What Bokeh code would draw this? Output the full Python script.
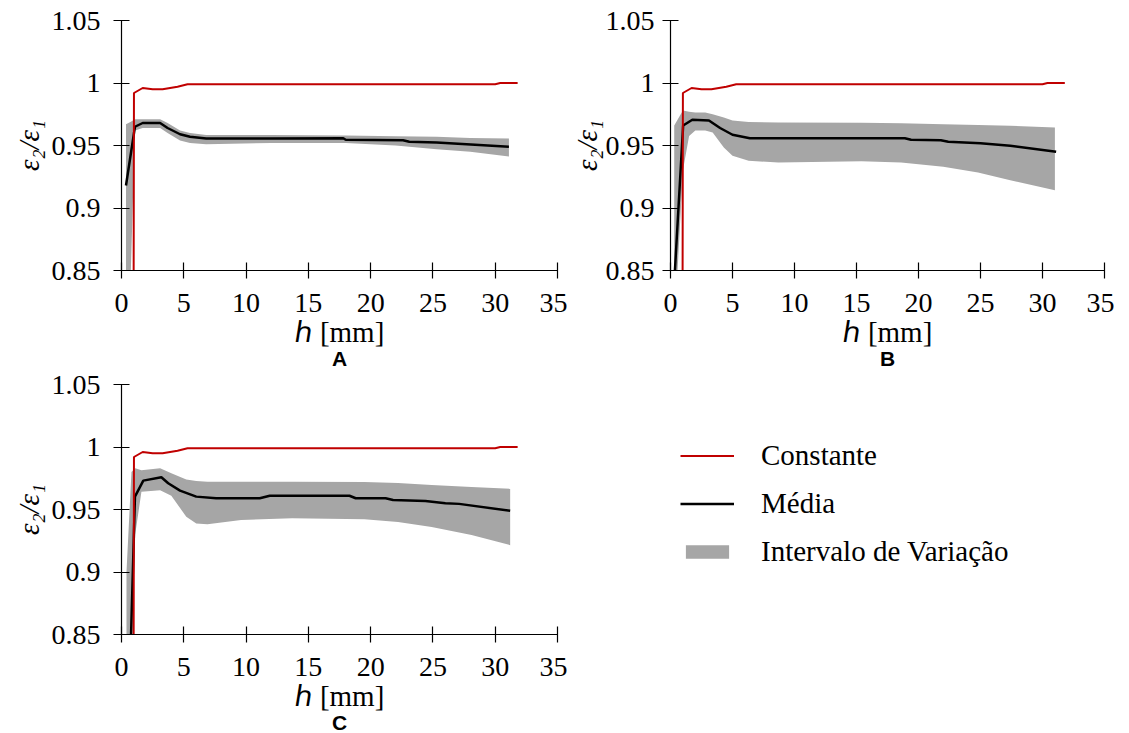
from bokeh.plotting import figure
from bokeh.models import FixedTicker, NumeralTickFormatter, Legend, LegendItem, Range1d, Title
from bokeh.layouts import column, row
from bokeh.embed import file_html
from bokeh.resources import INLINE

# ---------------- data ----------------
x_ticks = [0, 5, 10, 15, 20, 25, 30, 35]
y_ticks = [0.85, 0.9, 0.95, 1.0, 1.05]

# "Constante" (same in all panels)
h_const = [0.95, 1.0, 1.7, 2.5, 3.3, 4.5, 5.3, 30.0, 30.4, 31.8]
v_const = [0.70, 0.992, 0.996, 0.995, 0.995, 0.997, 0.999, 0.999, 1.0, 1.0]

# Panel A
hA_mean = [0.36, 1.08, 1.7, 3.1, 3.7, 4.7, 5.5, 6.8, 12.0, 17.8, 18.0, 22.6, 23.1, 25.3, 27.7, 31.1]
A_mean = [0.918, 0.965, 0.968, 0.968, 0.964, 0.959, 0.957, 0.9556, 0.9557, 0.9558, 0.9546, 0.9542,
          0.953, 0.9524, 0.951, 0.949]
hA_band = [0.36, 0.75, 1.08, 1.7, 3.1, 3.7, 4.7, 5.5, 6.8, 12.0, 18.0, 22.0, 25.3, 28.0, 31.1]
A_upper = [0.967, 0.969, 0.971, 0.971, 0.971, 0.968, 0.962, 0.960, 0.9585, 0.9585, 0.958, 0.9575,
           0.957, 0.956, 0.9556]
A_lower = [0.80, 0.85, 0.962, 0.964, 0.964, 0.960, 0.954, 0.952, 0.951, 0.952, 0.952, 0.950,
           0.947, 0.945, 0.9412]

# Panel B
hB_mean = [0.3, 1.02, 1.76, 3.1, 4.0, 5.0, 6.4, 12.0, 18.9, 19.4, 21.8, 22.4, 25.0, 27.4, 31.1]
B_mean = [0.84, 0.966, 0.9706, 0.970, 0.964, 0.9586, 0.9558, 0.9558, 0.9558, 0.9546, 0.9542,
          0.953, 0.9518, 0.9498, 0.945]
hB_band = [0.3, 1.0, 1.5, 2.0, 2.8, 3.4, 4.3, 5.0, 6.3, 8.7, 15.4, 18.6, 22.0, 24.8, 27.4, 31.0]
B_upper = [0.966, 0.978, 0.977, 0.9764, 0.9764, 0.975, 0.9724, 0.970, 0.9688, 0.9684, 0.9682,
           0.9678, 0.967, 0.9664, 0.9658, 0.9644]
B_lower = [0.80, 0.93, 0.9576, 0.962, 0.962, 0.9604, 0.9484, 0.9418, 0.9378, 0.9364, 0.9375,
           0.9364, 0.933, 0.9284, 0.9222, 0.9142]

# Panel C
hC_mean = [0.74, 1.08, 1.75, 3.2, 3.75, 4.7, 6.0, 7.6, 11.1, 11.9, 18.3, 18.8, 21.2, 21.8, 24.4,
           26.0, 27.1, 31.2]
C_mean = [0.84, 0.9603, 0.9731, 0.9758, 0.971, 0.9651, 0.9603, 0.959, 0.959, 0.961, 0.961, 0.959,
          0.959, 0.9576, 0.9568, 0.955, 0.9545, 0.949]
hC_band = [0.4, 0.8, 1.1, 1.6, 3.1, 4.0, 5.2, 6.0, 6.9, 9.6, 13.7, 19.5, 22.2, 24.9, 28.1, 31.2]
C_upper = [0.90, 0.98, 0.983, 0.9815, 0.983, 0.979, 0.974, 0.9728, 0.9723, 0.9723, 0.9723, 0.972,
           0.9713, 0.9697, 0.968, 0.9665]
C_lower = [0.80, 0.82, 0.93, 0.9643, 0.9655, 0.961, 0.9442, 0.9389, 0.9383, 0.9416, 0.943, 0.9422,
           0.940, 0.936, 0.9296, 0.9215]

panel_letters = ["A", "B", "C"]
legend_labels = ["Constante", "Média", "Intervalo de Variação"]
y_label = "ε₂/ε₁"
x_label = "ℎ [mm]"

RED = "#c00000"
BLACK = "#000000"
GRAY = "#a6a6a6"
SERIF = "Liberation Serif"


def make_panel(letter, h_band, lower, upper, h_mean, mean, width, height,
               border_left, border_top, border_bottom, ylab_standoff, ytitle_standoff):
    p = figure(width=width, height=height,
               min_border_left=border_left, min_border_right=10,
               min_border_top=border_top, min_border_bottom=border_bottom,
               x_range=Range1d(0, 35), y_range=Range1d(0.85, 1.05),
               output_backend="svg", toolbar_location=None)
    p.outline_line_color = None
    p.grid.visible = False

    p.varea(x=h_band, y1=lower, y2=upper, fill_color=GRAY, fill_alpha=1.0)
    p.line(h_mean, mean, line_color=BLACK, line_width=2.5)
    p.line(h_const, v_const, line_color=RED, line_width=2)

    p.xaxis.ticker = FixedTicker(ticks=x_ticks)
    p.yaxis.ticker = FixedTicker(ticks=y_ticks)
    p.yaxis.formatter = NumeralTickFormatter(format="0.[00]")
    p.axis.axis_line_color = BLACK
    p.axis.axis_line_width = 1.2
    p.axis.major_tick_line_color = BLACK
    p.axis.major_tick_line_width = 1.2
    p.axis.major_tick_in = 8
    p.axis.major_tick_out = 8
    p.axis.minor_tick_line_color = None
    p.axis.major_label_text_font = SERIF
    p.axis.major_label_text_font_size = "28px"
    p.axis.major_label_text_color = BLACK
    p.axis.axis_label_text_font = SERIF
    p.axis.axis_label_text_font_size = "29px"
    p.axis.axis_label_text_color = BLACK
    p.yaxis.major_label_standoff = ylab_standoff
    p.xaxis.major_label_standoff = 15
    p.yaxis.axis_label = y_label
    p.yaxis.axis_label_text_font_style = "italic"
    p.yaxis.axis_label_standoff = ytitle_standoff
    p.xaxis.axis_label = x_label
    p.xaxis.axis_label_text_font_style = "normal"
    p.xaxis.axis_label_standoff = 1

    p.add_layout(Title(text=letter, align="center", text_font="Liberation Sans",
                       text_font_size="21px", text_font_style="bold", text_color=BLACK,
                       standoff=-12), "below")
    return p


pA = make_panel(panel_letters[0], hA_band, A_lower, A_upper, hA_mean, A_mean,
                567, 369, 121, 20, 99, 13, 4)
pB = make_panel(panel_letters[1], hB_band, B_lower, B_upper, hB_mean, B_mean,
                547, 369, 101, 20, 99, 8, 0)
pC = make_panel(panel_letters[2], hC_band, C_lower, C_upper, hC_mean, C_mean,
                567, 363, 121, 15, 98, 13, 4)

# legend panel (borders equal to panel C / B so the frames stay aligned);
# its renderers hold series data but lie outside this panel's ranges, so only
# the legend itself is visible here
pL = figure(width=547, height=363, min_border_left=101, min_border_top=15,
            min_border_right=10, min_border_bottom=98,
            x_range=Range1d(100, 200), y_range=Range1d(100, 200),
            x_axis_location=None, y_axis_location=None,
            output_backend="svg", toolbar_location=None)
pL.outline_line_color = None
pL.grid.visible = False
r_red = pL.line(h_const, v_const, line_color=RED, line_width=2)
r_black = pL.line(hA_mean, A_mean, line_color=BLACK, line_width=2.5)
r_gray = pL.varea(x=hA_band, y1=A_lower, y2=A_upper, fill_color=GRAY)
legend = Legend(items=[LegendItem(label=legend_labels[0], renderers=[r_red]),
                       LegendItem(label=legend_labels[1], renderers=[r_black]),
                       LegendItem(label=legend_labels[2], renderers=[r_gray])],
                location=(12, 66), margin=0, padding=0, spacing=15,
                glyph_width=54, glyph_height=17, label_standoff=27, label_height=33,
                label_text_font=SERIF, label_text_font_size="29px",
                label_text_color=BLACK, border_line_alpha=0, background_fill_alpha=0)
pL.add_layout(legend)

layout = column(row(pA, pB), row(pC, pL))

open("out.html", "w").write(file_html(layout, INLINE))
